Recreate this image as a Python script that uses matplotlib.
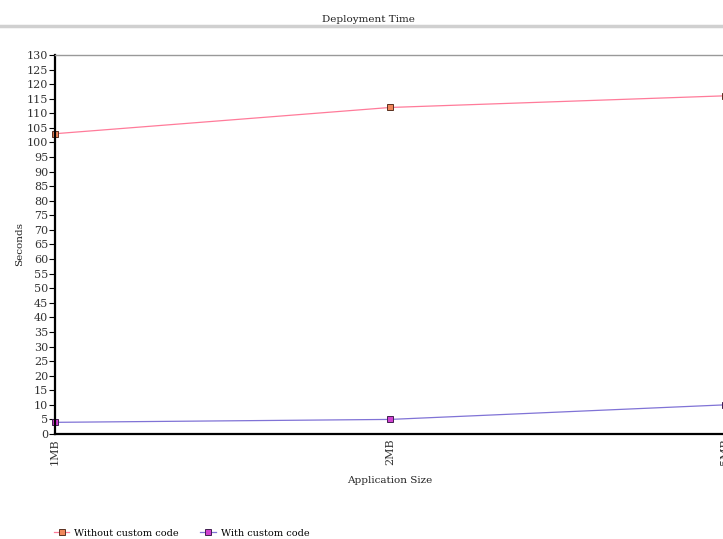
import matplotlib
matplotlib.use("Agg")
import matplotlib.pyplot as plt
from matplotlib.lines import Line2D

# data
sizes = ["1MB", "2MB", "5MB"]
without_custom = [103, 112, 116]
with_custom = [4, 5, 10]

plt.rcParams['font.family'] = ['DejaVu Serif']
plt.rcParams['font.size'] = 7

W, H = 723, 539
fig = plt.figure(figsize=(W / 100, H / 100), dpi=100)

# axes: left at x=55, top y=55, bottom y=434, third category at x=725 (clipped)
ax = fig.add_axes([55 / W, 1 - 434 / H, 670 / W, 379 / H])
x = list(range(len(sizes)))

ax.plot(x, without_custom, color="#ff7b9a", lw=0.9,
        marker="s", ms=5, mfc="#f0875a", mec="#5a3020", mew=0.7, clip_on=False)
ax.plot(x, with_custom, color="#8073d6", lw=0.9,
        marker="s", ms=5, mfc="#d040d0", mec="#402050", mew=0.7, clip_on=False)

ax.set_xlim(0, len(sizes) - 1)
ax.set_ylim(0, 130)
ax.set_yticks(range(0, 131, 5))
ax.set_xticks(x)
ax.set_xticklabels(sizes, rotation=90)
ax.tick_params(axis="y", length=4, width=0.8, pad=1, labelsize=8, labelcolor="#333333")
ax.tick_params(axis="x", length=0, pad=3, labelsize=8, labelcolor="#333333")

ax.spines["left"].set_linewidth(1.6)
ax.spines["bottom"].set_linewidth(1.6)
ax.spines["top"].set_color("#999999")
ax.spines["top"].set_linewidth(1.0)
ax.spines["right"].set_visible(False)

ax.set_xlabel("Application Size", fontsize=7.5, color="#222222")
ax.set_ylabel("Seconds", fontsize=7.5, color="#222222")
ax.xaxis.set_label_coords((390 - 55) / 670, -(476 - 434) / 379)
ax.yaxis.set_label_coords(-(55 - 24) / 670, 0.5)

# title with grey rule underneath
fig.text(368 / W, 1 - 19 / H, "Deployment Time", ha="center", va="center",
         fontsize=7.5, color="#222222")
fig.add_artist(Line2D([0, 1], [1 - 26 / H, 1 - 26 / H], transform=fig.transFigure,
                      color="#d0d0d0", lw=2.5))

handles = [
    Line2D([], [], color="#ff7b9a", lw=0.9, marker="s", ms=5,
           mfc="#f0875a", mec="#5a3020", mew=0.7),
    Line2D([], [], color="#8073d6", lw=0.9, marker="s", ms=5,
           mfc="#d040d0", mec="#402050", mew=0.7),
]
fig.legend(handles, ["Without custom code", "With custom code"],
           loc="center left", bbox_to_anchor=(45 / W, 1 - 533 / H),
           ncol=2, frameon=False, fontsize=7, handlelength=1.6,
           handletextpad=0.5, columnspacing=2.2)

fig.savefig("out.png", dpi=100)
